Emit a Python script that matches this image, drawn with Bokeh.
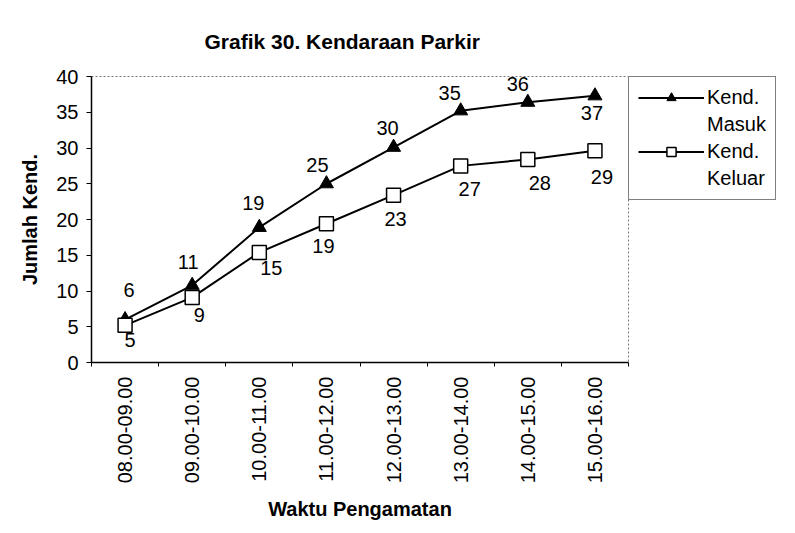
import math
from bokeh.plotting import figure
from bokeh.models import (ColumnDataSource, Range1d, LinearAxis,
                          FixedTicker, Legend, LegendItem)
from bokeh.core.properties import value
from bokeh.embed import file_html
from bokeh.resources import INLINE

# ---- data ----
periods = ["08.00-09.00", "09.00-10.00", "10.00-11.00", "11.00-12.00",
           "12.00-13.00", "13.00-14.00", "14.00-15.00", "15.00-16.00"]
masuk = [6.0, 10.8, 18.9, 25.0, 30.1, 35.2, 36.4, 37.3]
masuk_labels = ["6", "11", "19", "25", "30", "35", "36", "37"]
keluar = [5.2, 9.1, 15.4, 19.4, 23.4, 27.5, 28.4, 29.6]
keluar_labels = ["5", "9", "15", "19", "23", "27", "28", "29"]
y_ticks = [0, 5, 10, 15, 20, 25, 30, 35, 40]

# label placement (screen-pixel nudges, styling only)
masuk_dx = [4, -4, -6, -9, -6, -11, -10, -3]
masuk_dy = [-30, -23, -24, -19, -19, -18, -18, 17]
keluar_dx = [5, 7, 12, -3, 2, 9, 12, 7]
keluar_dy = [15, 18, 16, 22, 24, 23, 24, 26]

FONT = "Liberation Sans"
n = len(periods)
xs = [i + 0.5 for i in range(n)]          # category centres

p = figure(x_range=Range1d(0, n), y_range=Range1d(0, 40),
           frame_width=537, frame_height=286,
           output_backend="svg", toolbar_location=None,
           x_axis_location=None, y_axis_location="left",
           min_border_left=91, min_border_right=151, min_border_top=76, min_border_bottom=155)

p.grid.visible = False
p.outline_line_color = "#777777"
p.outline_line_dash = "2 2"
p.outline_line_width = 1
p.background_fill_color = "white"
p.border_fill_color = "white"

# title
p.title.text = "Grafik 30. Kendaraan Parkir"
p.title.align = "left"
p.title.offset = 113
p.title.text_font = FONT
p.title.text_font_size = "21px"
p.title.text_font_style = "bold"
p.title.text_color = "black"
p.title.standoff = 48

# y axis
ya = p.yaxis[0]
ya.ticker = FixedTicker(ticks=y_ticks)
ya.major_label_text_font = FONT
ya.major_label_text_font_size = "20px"
ya.major_label_text_color = "black"
ya.major_tick_out = 5
ya.major_tick_in = 0
ya.minor_tick_line_color = None
ya.axis_line_color = "black"
ya.axis_line_width = 1.5
ya.major_tick_line_color = "black"
ya.major_label_standoff = 8
ya.axis_label = "Jumlah Kend."
ya.axis_label_text_font = FONT
ya.axis_label_text_font_size = "20px"
ya.axis_label_text_font_style = "bold"
ya.axis_label_text_color = "black"
ya.axis_label_standoff = 12

# x axis: tick marks at category boundaries ...
edge_axis = LinearAxis(ticker=FixedTicker(ticks=list(range(n + 1))),
                       major_label_overrides={i: "" for i in range(n + 1)},
                       major_label_text_font_size="1px",
                       major_tick_out=4, major_tick_in=0,
                       minor_tick_line_color=None,
                       axis_line_color="black", axis_line_width=1.5,
                       major_label_standoff=0)
p.add_layout(edge_axis, "below")

# ... and the category labels at the centres
cat_axis = LinearAxis(ticker=FixedTicker(ticks=xs),
                      major_label_overrides={x: lab for x, lab in zip(xs, periods)},
                      axis_line_color=None, major_tick_line_color=None,
                      minor_tick_line_color=None,
                      major_label_orientation=math.pi / 2,
                      major_label_text_font=FONT,
                      major_label_text_font_size="20px",
                      major_label_text_color="black",
                      major_label_standoff=4,
                      axis_label="Waktu Pengamatan",
                      axis_label_text_font=FONT,
                      axis_label_text_font_size="20px",
                      axis_label_text_font_style="bold",
                      axis_label_text_color="black",
                      axis_label_standoff=12)
p.add_layout(cat_axis, "below")

# series
l1 = p.line(xs, masuk, line_color="black", line_width=2)
m1 = p.scatter(xs, masuk, marker="triangle", size=14,
               fill_color="black", line_color="black")
l2 = p.line(xs, keluar, line_color="black", line_width=2)
m2 = p.scatter(xs, keluar, marker="square", size=14,
               fill_color="white", line_color="black", line_width=1.5)

# data labels
src_m = ColumnDataSource(dict(x=xs, y=masuk, text=masuk_labels,
                              xo=masuk_dx, yo=masuk_dy))
src_k = ColumnDataSource(dict(x=xs, y=keluar, text=keluar_labels,
                              xo=keluar_dx, yo=keluar_dy))
for src in (src_m, src_k):
    p.text(x="x", y="y", text="text", x_offset="xo", y_offset="yo", source=src,
           text_font=value(FONT), text_font_size="20px", text_color="black",
           text_align="center", text_baseline="middle")

# legend (two-line labels)
d1 = p.line([], [], line_alpha=0)
d2 = p.line([], [], line_alpha=0)
legend = Legend(items=[LegendItem(label="Kend.", renderers=[l1, m1]),
                       LegendItem(label="Masuk", renderers=[d1]),
                       LegendItem(label="Kend.", renderers=[l2, m2]),
                       LegendItem(label="Keluar", renderers=[d2])],
                location="top_left",
                label_text_font=FONT, label_text_font_size="20px",
                label_text_color="black",
                glyph_width=66, glyph_height=23, label_height=23,
                label_standoff=3, spacing=4, padding=9, margin=0,
                border_line_color="black", border_line_width=1,
                background_fill_color="white", background_fill_alpha=1)
p.add_layout(legend, "right")

open("out.html", "w").write(file_html(p, INLINE))
